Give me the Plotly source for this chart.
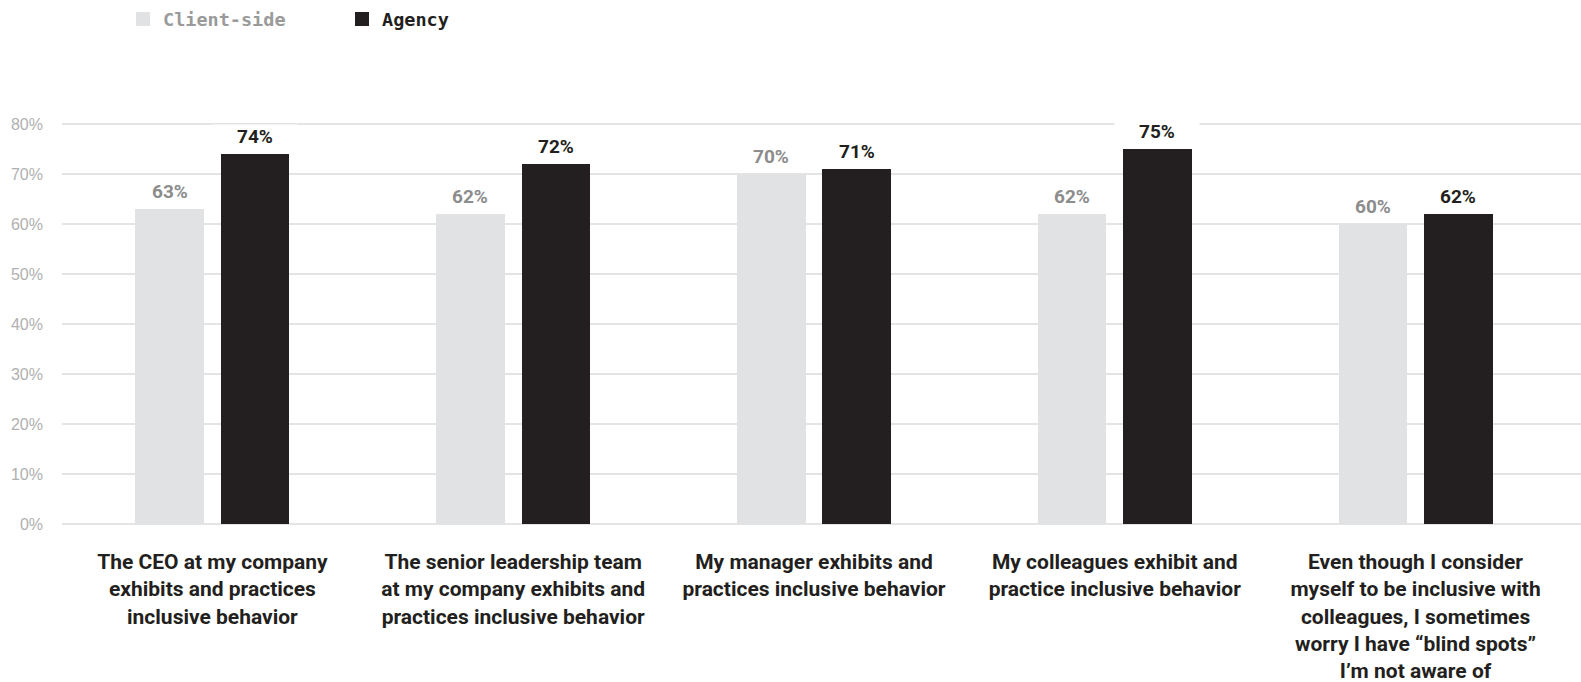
import plotly.graph_objects as go

# Survey statements (x categories) and percentage agreeing per respondent group
categories = [
    "The CEO at my company<br>exhibits and practices<br>inclusive behavior",
    "The senior leadership team<br>at my company exhibits and<br>practices inclusive behavior",
    "My manager exhibits and<br>practices inclusive behavior",
    "My colleagues exhibit and<br>practice inclusive behavior",
    "Even though I consider<br>myself to be inclusive with<br>colleagues, I sometimes<br>worry I have “blind spots”<br>I’m not aware of",
]
client_side = [63, 62, 70, 62, 60]
agency = [74, 72, 71, 75, 62]
y_ticks = [0, 10, 20, 30, 40, 50, 60, 70, 80]
y_tick_labels = ["0%", "10%", "20%", "30%", "40%", "50%", "60%", "70%", "80%"]

W, H = 1581, 682
ML, MR, MT, MB = 62, 0, 104, 158
PLOT_W = W - ML - MR
PLOT_H = H - MT - MB

CLIENT_COLOR = "#e1e2e4"
AGENCY_COLOR = "#231f20"
CLIENT_TEXT = "#8c8c8c"
TICK_COLOR = "#b0b0b0"
GRID_COLOR = "#e4e4e4"

BAR_W = 0.228
GAP = 0.028

xs = list(range(len(categories)))

fig = go.Figure()
fig.add_trace(go.Bar(
    x=xs, y=client_side, name="Client-side",
    marker=dict(color=CLIENT_COLOR, line=dict(width=0)),
    width=BAR_W, offset=-BAR_W - GAP, showlegend=False,
))
fig.add_trace(go.Bar(
    x=xs, y=agency, name="Agency",
    marker=dict(color=AGENCY_COLOR, line=dict(width=0)),
    width=BAR_W, offset=GAP, showlegend=False,
))

# value labels above each bar, with a white box that interrupts gridlines
annotations = []
for i, (c, a) in enumerate(zip(client_side, agency)):
    for val, xpos, color in ((c, i - GAP - BAR_W / 2, CLIENT_TEXT),
                             (a, i + GAP + BAR_W / 2, AGENCY_COLOR)):
        annotations.append(dict(
            x=xpos, y=val, xref="x", yref="y",
            text=f"{val}%", showarrow=False,
            yanchor="bottom", yshift=5,
            width=84, bgcolor="white", borderpad=0,
            font=dict(family="Roboto", size=19, color=color, weight="bold"),
        ))


def px_x(px):
    return (px - ML) / PLOT_W


def px_y(py):
    return 1 - (py - MT) / PLOT_H


# legend drawn at the top-left
shapes = []
legend_items = [("Client-side", CLIENT_COLOR, "#9a9a9a", 136),
                ("Agency", AGENCY_COLOR, AGENCY_COLOR, 355)]
for label, fill, tcolor, x0 in legend_items:
    shapes.append(dict(
        type="rect", xref="paper", yref="paper",
        x0=px_x(x0), x1=px_x(x0 + 14), y0=px_y(26), y1=px_y(12),
        fillcolor=fill, line=dict(width=0),
    ))
    annotations.append(dict(
        x=px_x(x0 + 25), y=px_y(19), xref="paper", yref="paper",
        xanchor="left", yanchor="middle", showarrow=False,
        text=label,
        font=dict(family="DejaVu Sans Mono", size=18.5, color=tcolor, weight="bold"),
    ))

fig.update_layout(
    width=W, height=H,
    margin=dict(l=ML, r=MR, t=MT, b=MB, pad=0),
    paper_bgcolor="white", plot_bgcolor="white",
    annotations=annotations, shapes=shapes,
    bargap=0, barmode="overlay",
)
fig.update_xaxes(
    tickmode="array", tickvals=xs, ticktext=categories,
    range=[-0.5, 4.55], showgrid=False, zeroline=False,
    showline=False, ticks="",
    ticklabelstandoff=23,
    tickfont=dict(family="Roboto", size=21, color=AGENCY_COLOR, weight="bold"),
)
fig.update_yaxes(
    range=[0, 84], tickmode="array", tickvals=y_ticks, ticktext=y_tick_labels,
    showgrid=True, gridcolor=GRID_COLOR, gridwidth=1.5,
    zeroline=True, zerolinecolor=GRID_COLOR, zerolinewidth=1.5,
    showline=False, ticks="", ticklabelstandoff=18,
    tickfont=dict(family="Liberation Sans", size=16, color=TICK_COLOR),
)

fig.write_html("out.html")
